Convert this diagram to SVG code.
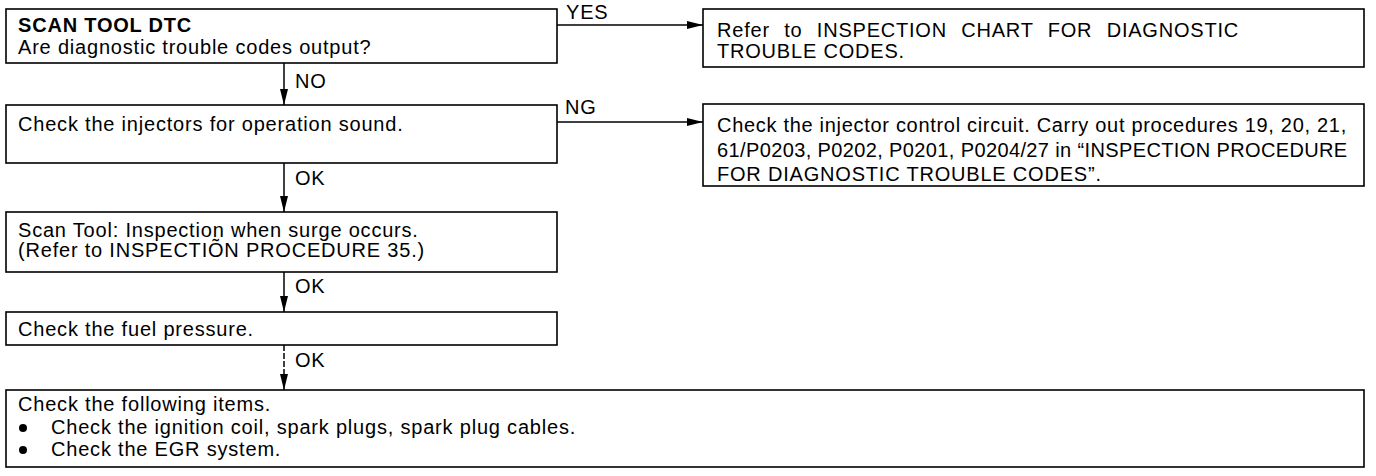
<svg xmlns="http://www.w3.org/2000/svg" width="1376" height="476" viewBox="0 0 1376 476">
<style>
.box{fill:#fff;stroke:#000;stroke-width:1.6}
.t{font-family:"Liberation Sans",Arial,sans-serif;font-size:20px;letter-spacing:0.8px;fill:#000}
.b{font-weight:bold}
.c{stroke:#000;stroke-width:1.5;fill:none}
</style>
<defs>
<marker id="ah" viewBox="0 0 16 8" refX="16" refY="4" markerWidth="16" markerHeight="8" markerUnits="userSpaceOnUse" orient="auto">
<path d="M0,0 L16,4 L0,8 Z" fill="#000"/>
</marker>
</defs>
<rect width="1376" height="476" fill="#fff"/>
<g id="connectors">
<line class="c" x1="284" y1="63" x2="284" y2="105" marker-end="url(#ah)"/>
<line class="c" x1="284" y1="163" x2="284" y2="212" marker-end="url(#ah)"/>
<line class="c" x1="284" y1="272" x2="284" y2="312" marker-end="url(#ah)"/>
<line class="c" x1="284" y1="345" x2="284" y2="390" stroke-dasharray="6 2" stroke-width="1.2" marker-end="url(#ah)"/>
<line class="c" x1="557" y1="25" x2="703" y2="25" marker-end="url(#ah)"/>
<line class="c" x1="557" y1="122" x2="703" y2="122" marker-end="url(#ah)"/>
<text class="t" x="295" y="88">NO</text>
<text class="t" x="295" y="185">OK</text>
<text class="t" x="295" y="293">OK</text>
<text class="t" x="295" y="367">OK</text>
<text class="t" x="566" y="19">YES</text>
<text class="t" x="565" y="114">NG</text>
</g>
<g id="n1">
<rect class="box" x="6" y="9" width="551" height="54"/>
<text class="t b" x="18" y="32">SCAN TOOL DTC</text>
<text class="t" x="18" y="54">Are diagnostic trouble codes output?</text>
</g>
<g id="n2">
<rect class="box" x="703" y="9" width="661" height="58"/>
<text class="t" x="717" y="37" textLength="522" lengthAdjust="spacing" word-spacing="8">Refer to INSPECTION CHART FOR DIAGNOSTIC</text>
<text class="t" x="717" y="58">TROUBLE CODES.</text>
</g>
<g id="n3">
<rect class="box" x="6" y="105" width="551" height="58"/>
<text class="t" x="18" y="131">Check the injectors for operation sound.</text>
</g>
<g id="n4">
<rect class="box" x="703" y="104" width="661" height="82"/>
<text class="t" x="717" y="132" textLength="630" lengthAdjust="spacing">Check the injector control circuit. Carry out procedures 19, 20, 21,</text>
<text class="t" x="717" y="157" textLength="631" lengthAdjust="spacing">61/P0203, P0202, P0201, P0204/27 in “INSPECTION PROCEDURE</text>
<text class="t" x="717" y="181">FOR DIAGNOSTIC TROUBLE CODES”.</text>
</g>
<g id="n5">
<rect class="box" x="6" y="212" width="551" height="60"/>
<text class="t" x="18" y="237">Scan Tool: Inspection when surge occurs.</text>
<text class="t" x="18" y="257">(Refer to INSPECTIÕN PROCEDURE 35.)</text>
</g>
<g id="n6">
<rect class="box" x="6" y="312" width="551" height="33"/>
<text class="t" x="18" y="336">Check the fuel pressure.</text>
</g>
<g id="n7">
<rect class="box" x="6" y="390" width="1358" height="77"/>
<text class="t" x="18" y="411">Check the following items.</text>
<circle cx="23" cy="428" r="4" fill="#000"/>
<text class="t" x="51" y="434">Check the ignition coil, spark plugs, spark plug cables.</text>
<circle cx="23" cy="450" r="4" fill="#000"/>
<text class="t" x="51" y="456">Check the EGR system.</text>
</g>
</svg>
